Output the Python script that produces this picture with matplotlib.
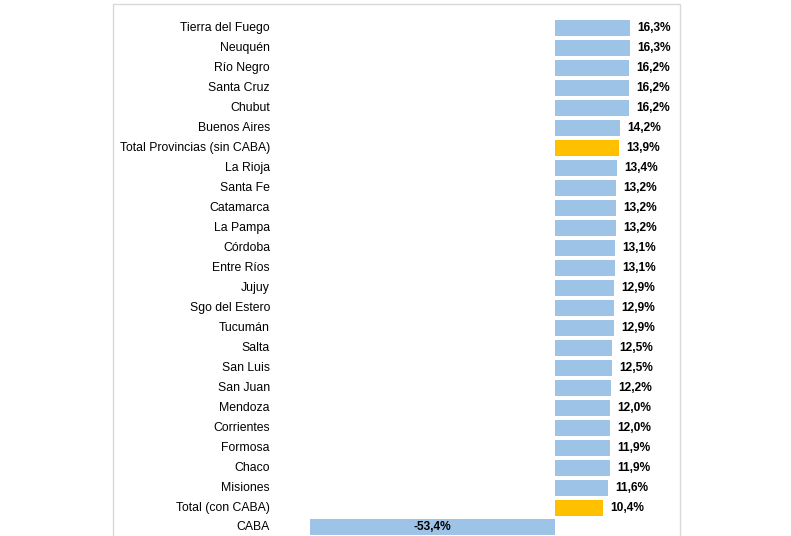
import matplotlib
matplotlib.use("Agg")
import matplotlib.pyplot as plt
from matplotlib.patches import Rectangle
from matplotlib.transforms import blended_transform_factory

categories = ["Tierra del Fuego", "Neuquén", "Río Negro", "Santa Cruz", "Chubut",
              "Buenos Aires", "Total Provincias (sin CABA)", "La Rioja", "Santa Fe",
              "Catamarca", "La Pampa", "Córdoba", "Entre Ríos", "Jujuy",
              "Sgo del Estero", "Tucumán", "Salta", "San Luis", "San Juan",
              "Mendoza", "Corrientes", "Formosa", "Chaco", "Misiones",
              "Total (con CABA)", "CABA"]
values = [16.3, 16.3, 16.2, 16.2, 16.2, 14.2, 13.9, 13.4, 13.2, 13.2, 13.2, 13.1,
          13.1, 12.9, 12.9, 12.9, 12.5, 12.5, 12.2, 12.0, 12.0, 11.9, 11.9, 11.6,
          10.4, -53.4]
highlight = ["Total Provincias (sin CABA)", "Total (con CABA)"]

BLUE = "#9DC3E6"
GOLD = "#FFC000"

W, H = 791, 536
fig = plt.figure(figsize=(W / 100, H / 100), dpi=100)
fig.patch.set_facecolor("white")

# frame
fig.add_artist(Rectangle((113 / W, -0.05), (680 - 113) / W, 1.05 - 4 / H,
                         transform=fig.transFigure, fill=False,
                         edgecolor="#D9D9D9", linewidth=1.0))

pxper = 4.59
zero = 555
xmin, xmax = -60, 25
left = zero + xmin * pxper
right = zero + xmax * pxper
top = 18.5
bottom = top + 26 * 19.96
ax = fig.add_axes([left / W, 1 - bottom / H, (right - left) / W, (bottom - top) / H])
ax.set_xlim(xmin, xmax)
ax.set_ylim(len(categories) - 0.5, -0.5)
ax.axis("off")

ys = list(range(len(categories)))
colors = [GOLD if c in highlight else BLUE for c in categories]
ax.barh(ys, values, height=0.8, color=colors)

lab_tr = blended_transform_factory(fig.transFigure, ax.transData)
for y, c, v in zip(ys, categories, values):
    ax.text(270 / W, y, c, transform=lab_tr, ha="right", va="center",
            fontsize=8.8, family="Liberation Sans")
    lbl = f"{v:.1f}%".replace(".", ",")
    if v >= 0:
        ax.text(v + 1.6, y, lbl, ha="left", va="center", fontsize=8.6,
                fontweight="bold", family="Liberation Sans")
    else:
        ax.text(v / 2, y, lbl, ha="center", va="center", fontsize=8.6,
                fontweight="bold", family="Liberation Sans")

fig.savefig("out.png", dpi=100)
